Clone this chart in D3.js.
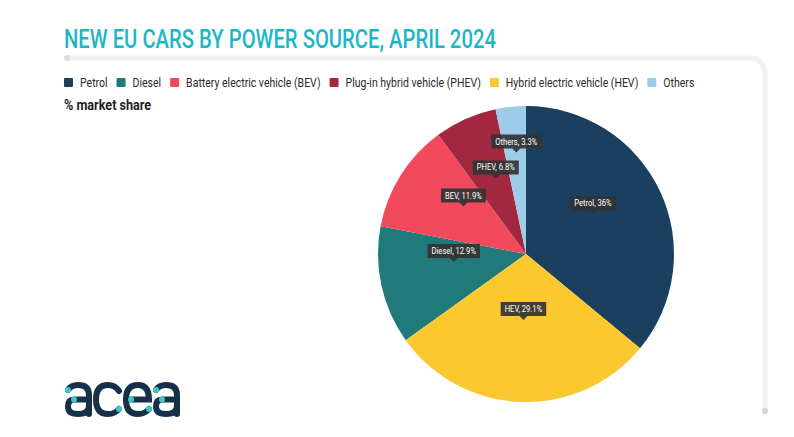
<!DOCTYPE html>
<html>
<head>
<meta charset="utf-8">
<script src="https://cdn.jsdelivr.net/npm/d3@7"></script>
<style>
  html, body { margin: 0; padding: 0; background: #fff; }
  svg { display: block; font-family: Roboto, "Noto Sans", sans-serif; }
</style>
</head>
<body>
<script>
var width = 794,
    height = 437;

// chart data
var categories = ["Petrol", "Diesel", "Battery electric vehicle (BEV)", "Plug-in hybrid vehicle (PHEV)", "Hybrid electric vehicle (HEV)", "Others"];
var shortNames = ["Petrol", "Diesel", "BEV", "PHEV", "HEV", "Others"];
var shares = [36, 12.9, 11.9, 6.8, 29.1, 3.3];
var colors = ["#1b3f5e", "#1f7a79", "#f2495c", "#a2283f", "#fbc82f", "#9dcbea"];
var pieOrder = ["Petrol", "HEV", "Diesel", "BEV", "PHEV", "Others"];   // clockwise from 12 o'clock

var title = "NEW EU CARS BY POWER SOURCE, APRIL 2024";
var subtitle = "% market share";

var data = categories.map(function (c, i) {
    return {name: c, short: shortNames[i], value: shares[i], color: colors[i]};
});

var svg = d3.select("body").append("svg")
    .attr("width", width)
    .attr("height", height);

// squeeze text horizontally (stand-in for a condensed font)
function condense(sel, k) {
    sel.each(function () {
        var w = this.getComputedTextLength();
        d3.select(this).attr("textLength", w * k).attr("lengthAdjust", "spacingAndGlyphs");
    });
}

// title
svg.append("text")
    .attr("x", 64)
    .attr("y", 48)
    .attr("fill", "#1cb7c6")
    .attr("font-size", 25)
    .attr("font-weight", 500)
    .text(title)
    .call(condense, 0.81);

// light card frame
svg.append("path")
    .attr("d", "M67,58 L750,58 A15,15 0 0 1 765,73 L765,410")
    .attr("fill", "none")
    .attr("stroke", "#f1f1f1")
    .attr("stroke-width", 5)
    .attr("stroke-linecap", "round");
svg.append("circle").attr("cx", 67).attr("cy", 58).attr("r", 3).attr("fill", "#dcdcdc");
svg.append("circle").attr("cx", 765).attr("cy", 411).attr("r", 3).attr("fill", "#d4d4d4");

// legend
var legend = svg.append("g").attr("transform", "translate(64,78)");
var lx = 0;
data.forEach(function (d) {
    var item = legend.append("g").attr("transform", "translate(" + lx + ",0)");
    item.append("rect")
        .attr("width", 9).attr("height", 9)
        .attr("rx", 1)
        .attr("fill", d.color);
    var t = item.append("text")
        .attr("x", 16)
        .attr("y", 9)
        .attr("font-size", 12)
        .attr("fill", "#2a2a2a")
        .text(d.name)
        .call(condense, 0.875);
    lx += 16 + (+t.attr("textLength")) + 9;
});

svg.append("text")
    .attr("x", 64)
    .attr("y", 110)
    .attr("font-size", 14)
    .attr("font-weight", 700)
    .attr("fill", "#222")
    .text(subtitle)
    .call(condense, 0.9);

// pie
var cx = 526, cy = 254, radius = 148;

var pie = d3.pie()
    .value(function (d) { return d.value; })
    .sort(function (a, b) { return pieOrder.indexOf(a.short) - pieOrder.indexOf(b.short); });

var arc = d3.arc().innerRadius(0).outerRadius(radius);

var arcs = pie(data);

var g = svg.append("g").attr("transform", "translate(" + cx + "," + cy + ")");

g.selectAll("path.slice")
    .data(arcs)
    .enter().append("path")
    .attr("class", "slice")
    .attr("fill", function (d) { return d.data.color; })
    .attr("d", arc);

// tooltip-style labels floating above the label point
var placed = [];
var lift = 8;
arcs.forEach(function (d) {
    var lg = g.append("g");
    var txt = lg.append("text")
        .attr("text-anchor", "middle")
        .attr("font-size", 9.5)
        .attr("fill", "#fff")
        .text(d.data.short + ", " + d.data.value + "%")
        .call(condense, 0.8);
    var tw = +txt.attr("textLength") + 8, th = 14, tip = 4;

    var mid = (d.startAngle + d.endAngle) / 2;
    var r = radius * 0.5, px, py, box;
    for (var n = 0; n < 60; n++) {
        px = Math.sin(mid) * r;
        py = -Math.cos(mid) * r - lift;
        box = {x0: px - tw / 2, x1: px + tw / 2, y0: py - tip - th, y1: py};
        var hit = placed.some(function (b) {
            return box.x0 < b.x1 && box.x1 > b.x0 && box.y0 < b.y1 + 6 && box.y1 + 6 > b.y0;
        });
        if (!hit) break;
        r += 2;
    }
    placed.push(box);

    lg.attr("transform", "translate(" + px + "," + py + ")");
    lg.insert("path", "text")
        .attr("d", "M" + (-tw / 2) + "," + (-tip - th) + " h" + tw + " v" + th +
                   " h" + (-(tw / 2 - tip)) + " l" + (-tip) + "," + tip + " l" + (-tip) + "," + (-tip) +
                   " h" + (-(tw / 2 - tip)) + " Z")
        .attr("fill", "#333")
        .attr("fill-opacity", 0.92);
    txt.attr("y", -tip - 4);
});

// acea logo
var logo = svg.append("g").attr("transform", "translate(65,382)")
    .attr("fill", "none")
    .attr("stroke", "#17304a")
    .attr("stroke-width", 6)
    .attr("stroke-linecap", "round");
var s = 3, b = 35 - 3;
function letterA(x0) {
    logo.append("path").attr("d",
        "M" + (x0 + s) + ",8 Q" + (x0 + 6) + "," + s + " " + (x0 + 13) + "," + s +
        " Q" + (x0 + 24) + "," + s + " " + (x0 + 24) + ",13 L" + (x0 + 24) + "," + b);
    logo.append("path").attr("d",
        "M" + (x0 + 9) + ",17.5 L" + (x0 + 24) + ",17.5 M" + (x0 + 24) + ",24 Q" + (x0 + 24) + "," + b + " " + (x0 + 13) + "," + b +
        " Q" + (x0 + s) + "," + b + " " + (x0 + s) + ",24.5 Q" + (x0 + s) + ",17.5 " + (x0 + 9) + ",17.5");
    logo.append("circle").attr("cx", x0 + s).attr("cy", 8).attr("r", 3).attr("fill", "#3cc7c8").attr("stroke", "none");
    logo.append("circle").attr("cx", x0 + 9).attr("cy", 17.5).attr("r", 3).attr("fill", "#3cc7c8").attr("stroke", "none");
}
letterA(0);
letterA(88);
// c
logo.append("path").attr("d",
    "M54,9 Q50," + s + " 43," + s + " Q31," + s + " 31,17.5 Q31," + b + " 43," + b + " Q50," + b + " 54,27");
logo.append("circle").attr("cx", 54).attr("cy", 27).attr("r", 3).attr("fill", "#3cc7c8").attr("stroke", "none");
// e
logo.append("path").attr("d",
    "M66,17.5 L84,17.5 Q84," + s + " 73," + s + " Q61," + s + " 61,17.5 Q61," + b + " 73," + b + " Q80," + b + " 84,27");
logo.append("circle").attr("cx", 66).attr("cy", 17.5).attr("r", 3).attr("fill", "#3cc7c8").attr("stroke", "none");
logo.append("circle").attr("cx", 84).attr("cy", 27).attr("r", 3).attr("fill", "#3cc7c8").attr("stroke", "none");
</script>
</body>
</html>
